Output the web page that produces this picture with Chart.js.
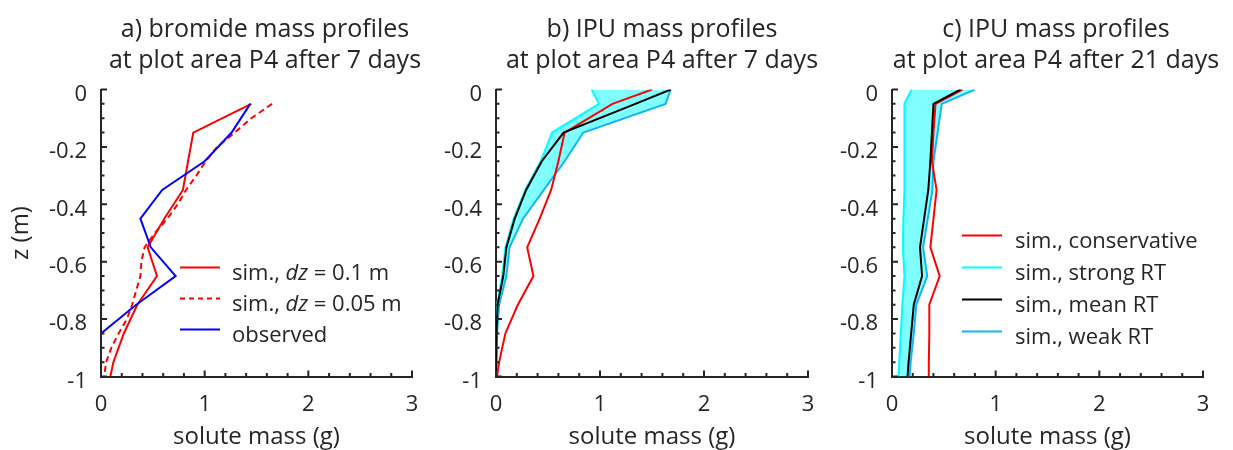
<!DOCTYPE html>
<html>
<head>
<meta charset="utf-8">
<script src="https://cdn.jsdelivr.net/npm/chart.js@4.4.1/dist/chart.umd.min.js"></script>
<style>
  html, body { margin: 0; padding: 0; background: #fff; overflow: hidden; width: 1233px; height: 450px; }
  canvas { position: absolute; top: 0; }
</style>
</head>
<body>
<canvas id="panelA" width="530" height="450" style="left:0px"></canvas>
<canvas id="panelB" width="464" height="450" style="left:430px"></canvas>
<canvas id="panelC" width="432" height="450" style="left:840px"></canvas>
<script>
// depth nodes (m)
const zA = [-0.05, -0.15, -0.25, -0.35, -0.45, -0.55, -0.65, -0.75, -0.85, -0.95, -1.0];
const zAfine = [-0.05, -0.10, -0.15, -0.20, -0.25, -0.30, -0.35, -0.40, -0.45, -0.50,
                -0.55, -0.60, -0.65, -0.70, -0.75, -0.80, -0.85, -0.90, -0.95, -1.0];
const zObs = [-0.05, -0.15, -0.25, -0.35, -0.45, -0.55, -0.65, -0.75, -0.85];
const zBC = [0, -0.05, -0.15, -0.25, -0.35, -0.45, -0.55, -0.65, -0.75, -0.85, -0.95, -1.0];

// a) bromide after 7 days (g)
const bromDz01 = [1.45, 0.89, 0.84, 0.79, 0.61, 0.45, 0.54, 0.35, 0.22, 0.12, 0.09];
const bromDz005 = [1.65, 1.45, 1.29, 1.12, 1.01, 0.92, 0.82, 0.74, 0.64, 0.52,
                   0.42, 0.39, 0.38, 0.34, 0.30, 0.25, 0.17, 0.10, 0.05, 0.03];
const bromObs = [1.44, 1.26, 1.00, 0.59, 0.38, 0.48, 0.72, 0.34, 0.0];

// b) IPU after 7 days (g)
const ipu7Cons = [1.50, 1.12, 0.66, 0.60, 0.53, 0.42, 0.30, 0.36, 0.21, 0.09, 0.03, 0.01];
const ipu7Strong = [0.92, 0.99, 0.54, 0.43, 0.28, 0.17, 0.09, 0.06, 0.01, 0.0, 0.0, 0.0];
const ipu7Mean = [1.68, 1.34, 0.65, 0.44, 0.29, 0.18, 0.10, 0.07, 0.015, 0.005, 0.0, 0.0];
const ipu7Weak = [1.68, 1.63, 0.84, 0.66, 0.46, 0.26, 0.13, 0.10, 0.03, 0.01, 0.005, 0.0];

// c) IPU after 21 days (g)
const ipu21Cons = [0.68, 0.42, 0.40, 0.385, 0.43, 0.40, 0.37, 0.46, 0.36, 0.36, 0.355, 0.355];
const ipu21Strong = [0.19, 0.12, 0.12, 0.12, 0.12, 0.11, 0.105, 0.12, 0.10, 0.085, 0.07, 0.065];
const ipu21Mean = [0.66, 0.40, 0.385, 0.37, 0.35, 0.31, 0.27, 0.29, 0.21, 0.185, 0.16, 0.15];
const ipu21Weak = [0.80, 0.48, 0.44, 0.40, 0.39, 0.345, 0.30, 0.34, 0.235, 0.21, 0.18, 0.17];

const titlesA = ['a) bromide mass profiles', 'at plot area P4 after 7 days'];
const titlesB = ['b) IPU mass profiles', 'at plot area P4 after 7 days'];
const titlesC = ['c) IPU mass profiles', 'at plot area P4 after 21 days'];

const axisColor = '#262626';
const RED = '#ff0000', BLUE = '#0000ff', CYAN = '#00ffff', SKY = '#13b5f2', BLACK = '#000000';

Chart.defaults.font.family = '"Open Sans", sans-serif';
Chart.defaults.color = axisColor;

function pts(xs, zs) {
  return zs.map((z, i) => ({x: xs[i], y: z}));
}

function line(label, xs, zs, color, extra) {
  return Object.assign({
    label: label,
    data: pts(xs, zs),
    borderColor: color,
    backgroundColor: color,
    borderWidth: 2,
    pointRadius: 0,
    fill: false,
    tension: 0,
    yAxisID: 'y'
  }, extra || {});
}

// inward MATLAB-style ticks
const innerTicks = {
  id: 'innerTicks',
  afterDraw(chart) {
    const {ctx, chartArea: a, scales} = chart;
    ctx.save();
    ctx.strokeStyle = axisColor;
    ctx.lineWidth = 2;
    ctx.beginPath();
    for (let i = 0; i <= 15; i++) {
      const px = scales.x.getPixelForValue(i * 0.2);
      const len = i % 5 === 0 ? 6 : 3.5;
      ctx.moveTo(px, a.bottom);
      ctx.lineTo(px, a.bottom - len);
    }
    for (let i = 0; i <= 20; i++) {
      const py = scales.y.getPixelForValue(-i * 0.05);
      const len = i % 4 === 0 ? 6 : 3.5;
      ctx.moveTo(a.left, py);
      ctx.lineTo(a.left + len, py);
    }
    ctx.stroke();
    ctx.restore();
  }
};

function makeLegend(items, cfg) {
  return {
    id: 'profileLegend',
    afterDraw(chart) {
      const {ctx, chartArea: a} = chart;
      items.forEach((it, i) => {
        const yy = a.top + cfg.top + i * cfg.gap;
        ctx.save();
        ctx.strokeStyle = it.color;
        ctx.lineWidth = 2;
        ctx.setLineDash(it.dash || []);
        ctx.beginPath();
        ctx.moveTo(a.left + cfg.x0, yy);
        ctx.lineTo(a.left + cfg.x1, yy);
        ctx.stroke();
        ctx.setLineDash([]);
        ctx.fillStyle = axisColor;
        ctx.textBaseline = 'middle';
        let tx = a.left + cfg.tx;
        it.parts.forEach(p => {
          ctx.font = (p[1] || 'normal') + ' 22px "Open Sans", sans-serif';
          ctx.fillText(p[0], tx, yy + 6);
          tx += ctx.measureText(p[0]).width;
        });
        ctx.restore();
      });
    }
  };
}

function zLabel(v) {
  return String(Number(v.toFixed(1)) + 0);
}

function makePanel(id, titles, datasets, yWidth, rightWidth, yTitle, legendPlugin) {
  const plugins = [innerTicks];
  if (legendPlugin) plugins.push(legendPlugin);
  return new Chart(document.getElementById(id), {
    type: 'line',
    data: {datasets: datasets},
    options: {
      responsive: false,
      animation: false,
      devicePixelRatio: 1,
      indexAxis: 'y',
      layout: {padding: 0},
      plugins: {
        legend: {display: false},
        tooltip: {enabled: false},
        filler: {drawTime: 'beforeDatasetsDraw'},
        title: {
          display: true,
          text: titles,
          color: axisColor,
          font: {size: 25, weight: 'normal', lineHeight: 1.25},
          padding: {top: 14, bottom: 13}
        }
      },
      scales: {
        x: {
          type: 'linear',
          position: 'bottom',
          min: 0, max: 3,
          grid: {display: false, drawTicks: false},
          border: {display: true, color: axisColor, width: 2},
          ticks: {stepSize: 1, padding: 15, maxRotation: 0, font: {size: 22}, color: axisColor},
          title: {display: true, text: 'solute mass (g)', color: axisColor,
                  font: {size: 24, lineHeight: 1.1}, padding: {top: 0, bottom: 0}},
          afterFit: s => { s.height = 73.5; }
        },
        y: {
          type: 'linear',
          position: 'left',
          min: -1, max: 0,
          grid: {display: false, drawTicks: false},
          border: {display: true, color: axisColor, width: 2},
          ticks: {stepSize: 0.2, padding: 14, labelOffset: 5, font: {size: 22}, color: axisColor,
                  callback: v => zLabel(v)},
          title: {display: yTitle, text: 'z (m)', color: axisColor,
                  font: {size: 24, lineHeight: 1.2}, padding: {top: 7, bottom: 0}},
          afterFit: s => { s.width = yWidth; }
        },
        y2: {
          type: 'linear',
          position: 'right',
          display: true,
          grid: {display: false, drawTicks: false},
          border: {display: false},
          ticks: {display: false},
          afterFit: s => { s.width = rightWidth; }
        }
      }
    },
    plugins: plugins
  });
}

// panel a
makePanel('panelA', titlesA, [
  line('observed', bromObs, zObs, BLUE),
  line('sim., dz = 0.1 m', bromDz01, zA, RED),
  line('sim., dz = 0.05 m', bromDz005, zAfine, RED, {borderDash: [6, 4]})
], 101, 118, true, makeLegend([
  {color: RED, parts: [['sim., '], ['dz', 'italic'], [' = 0.1 m']]},
  {color: RED, dash: [5, 4], parts: [['sim., '], ['dz', 'italic'], [' = 0.05 m']]},
  {color: BLUE, parts: [['observed']]}
], {top: 178, gap: 31, x0: 79, x1: 119, tx: 131}));

// panel b
makePanel('panelB', titlesB, [
  line('sim., mean RT', ipu7Mean, zBC, BLACK),
  line('sim., conservative', ipu7Cons, zBC, RED),
  line('sim., strong RT', ipu7Strong, zBC, CYAN, {fill: 3, backgroundColor: 'rgba(0,255,255,0.5)'}),
  line('sim., weak RT', ipu7Weak, zBC, SKY)
], 66, 86, false, null);

// panel c
makePanel('panelC', titlesC, [
  line('sim., mean RT', ipu21Mean, zBC, BLACK),
  line('sim., conservative', ipu21Cons, zBC, RED),
  line('sim., strong RT', ipu21Strong, zBC, CYAN, {fill: 3, backgroundColor: 'rgba(0,255,255,0.5)'}),
  line('sim., weak RT', ipu21Weak, zBC, SKY)
], 52, 69, false, makeLegend([
  {color: RED, parts: [['sim., conservative']]},
  {color: CYAN, parts: [['sim., strong RT']]},
  {color: BLACK, parts: [['sim., mean RT']]},
  {color: SKY, parts: [['sim., weak RT']]}
], {top: 146, gap: 32, x0: 70, x1: 110, tx: 123}));
</script>
</body>
</html>
